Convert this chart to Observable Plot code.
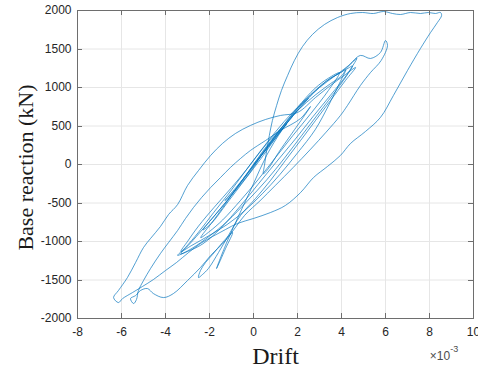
<!DOCTYPE html>
<html><head><meta charset="utf-8">
<script src="https://cdn.jsdelivr.net/npm/d3@7"></script>
<script src="https://cdn.jsdelivr.net/npm/@observablehq/plot@0.6"></script>
<style>body{margin:0;background:#fff} #chart{width:478px;height:371px;overflow:hidden}</style>
</head><body><div id="chart"></div>
<script>
// tick values
const driftTicks = [-8, -6, -4, -2, 0, 2, 4, 6, 8, 10];
const forceTicks = [-2000, -1500, -1000, -500, 0, 500, 1000, 1500, 2000];
const xLabel = "Drift";
const yLabel = "Base reaction (kN)";
const xMultiplier = "\u00d710";
const xExponent = "-3";

// traced response history: drift (x 10^-3) and base reaction (kN)
const drift = [
  0, 0.6, 1.1, 1.5, 1.1, 0.5, -0.2, -0.8, -1.3, -0.9, -0.2, 0.6, 1.3, 2.0, 2.5, 2.1, 1.4, 0.6, -0.2, -1.0, -1.7, -2.3, -1.9, -1.2, -0.4, 0.4, 1.2, 2.0, 2.7, 3.3, 3.8, 4.3, 4.5,
  4.3, 3.8, 3.0, 2.2, 1.4, 0.6, -0.3, -1.2, -2.0, -2.8, -3.45,
  -3.1, -2.5, -1.8, -1.0, -0.2, 0.6, 1.4, 2.2, 3.0, 3.7, 4.3, 4.86, 5.32, 5.77, 6.0, 6.09,
  5.8, 5.32, 4.86, 4.27, 3.95, 3.3, 2.6, 1.8, 1.0, 0.3, -0.4, -1.27, -1.95, -2.41, -3.0, -3.64, -4.09, -4.55, -4.82, -5.14, -5.36, -5.59,
  -5.45, -5.32, -5.23, -5.0, -4.68, -4.23, -3.86, -3.45, -3.09, -2.73, -2.36, -1.95, -1.5, -1.05, -0.59, -0.14, 0.55, 1.23, 2.14, 2.59,
  1.68, 1.14, 0.68, 0.45,
  0.5, 0.6, 0.72, 0.86, 1.05, 1.27, 1.55, 1.86, 2.23, 2.68, 3.23, 3.82, 4.41,
  4.95, 5.45, 5.91, 6.32, 6.68, 7.14, 7.59, 7.95, 8.27, 8.5, 8.55,
  8.36, 8.05, 7.59, 7.0, 6.36, 5.77, 5.09, 4.41, 3.95, 3.36, 2.73, 2.14, 1.45, 0.77, 0, -0.73,
  -1.27, -1.86, -2.41, -2.95, -3.5, -4.0, -4.55, -5.05, -5.5, -5.95, -6.14, -6.36,
  -6.14, -5.73, -5.36, -5.0, -4.68, -4.23, -3.86, -3.45, -3.0, -2.5, -1.95, -1.41, -0.82, -0.14, 0.55, 1.23, 2.0,
  2.82, 3.5, 4.18, 4.64,
  4.18, 3.5, 2.82, 2.14, 1.45, 0.77, 0.09, -0.59, -1.14, -1.59, -2.05, -2.32, -2.5,
  -2.41, -2.18, -1.86, -1.41, -0.95, -1.27, -1.68,
  -1.2, -0.6, 0, 0.6, 1.3, 2.0, 2.8, 3.5, 4.0, 4.4, 4.7,
  4.2, 3.5, 2.7, 1.9, 1.0, 0.2, -0.6, -1.5, -2.3, -3.0, -3.3,
  -2.8, -2.0, -1.2, -0.4, 0.4, 1.2, 2.0, 2.8, 3.4, 3.9,
  3.4, 2.6, 1.8, 1.0, 0.2, -0.6, -1.4, -2.0, -2.4,
  -1.8, -1.0, -0.2, 0.6, 1.2,
  2.0, 2.8, 3.5, 4.0, 4.2,
  3.9, 3.4, 2.8, 2.0, 1.2, 0.4, -0.4, -1.2, -2.0, -2.8, -3.3,
  -3.0, -2.5, -1.8, -1.0, -0.3, 0.4, 1.0, 1.6
];
const force = [
  0, 200, 380, 520, 400, 170, -90, -300, -470, -350, -100, 210, 460, 700, 860, 760, 520, 220, -120, -400, -640, -850, -760, -500, -200, 100, 420, 700, 920, 1080, 1170, 1250, 1280,
  1180, 980, 680, 380, 80, -200, -480, -740, -930, -1090, -1180,
  -1080, -880, -620, -330, -20, 280, 560, 800, 1000, 1150, 1280, 1416, 1377, 1455, 1610, 1546,
  1350, 1195, 1026, 766, 636, 420, 200, -40, -270, -470, -660, -987, -1182, -1338, -1507, -1676, -1728, -1676, -1611, -1637, -1702, -1741,
  -1806, -1754, -1637, -1507, -1351, -1156, -1013, -857, -701, -559, -429, -299, -169, -39, 78, 182, 312, 442, 598, 753,
  377, 156, -52, -120,
  -10, 182, 377, 572, 766, 961, 1156, 1351, 1533, 1689, 1819, 1909, 1961,
  1974, 1961, 1987, 1961, 1948, 1974, 1961, 1974, 1961, 1974, 1935,
  1844, 1715, 1507, 1221, 896, 611, 429, 273, 117, -26, -169, -364, -532, -624, -701, -766,
  -844, -935, -1026, -1143, -1273, -1377, -1494, -1585, -1663, -1741, -1793, -1728,
  -1637, -1468, -1273, -1078, -961, -805, -649, -520, -273, -78, 117, 273, 403, 507, 585, 637, 675,
  870, 1026, 1169, 1260,
  1091, 831, 572, 312, 52, -208, -442, -662, -922, -1143, -1351, -1429, -1468,
  -1377, -1273, -1169, -1013, -883, -1091, -1351,
  -1000, -620, -250, 120, 450, 720, 960, 1120, 1200, 1300, 1380,
  1150, 900, 620, 330, 20, -260, -540, -830, -1030, -1130, -1160,
  -1000, -740, -470, -160, 150, 450, 740, 990, 1120, 1190,
  960, 660, 380, 90, -200, -470, -720, -870, -950,
  -720, -400, -80, 240, 450,
  700, 900, 1050, 1150, 1230,
  1050, 760, 450, 150, -130, -380, -600, -780, -920, -1050, -1130,
  -1000, -800, -560, -300, -60, 200, 400, 560
];

(function () {
  const pts = drift.map((d, i) => ({drift: d, force: force[i]}));
  const W = 478, H = 371, mt = 10, mb = 53, ml = 77, mr = 5;
  const tk = 5;
  const boxColor = "#6e6e6e";
  const fmt = d => String(d);

  const chart = Plot.plot({
    width: W, height: H,
    marginLeft: ml, marginRight: mr, marginTop: mt, marginBottom: mb,
    x: {domain: [-8, 10], label: null},
    y: {domain: [-2000, 2000], label: null},
    style: {fontFamily: "'Liberation Sans', Arial, Helvetica, sans-serif", fontSize: "12px", color: "#262626", background: "#fff"},
    marks: [
      Plot.gridX(driftTicks, {stroke: "#e6e6e6", strokeOpacity: 1}),
      Plot.gridY(forceTicks, {stroke: "#e6e6e6", strokeOpacity: 1}),
      Plot.line(pts, {x: "drift", y: "force", stroke: "#0072BD", strokeWidth: 0.8, strokeOpacity: 0.85, curve: "catmull-rom"}),
      Plot.frame({stroke: boxColor}),
      Plot.axisX(driftTicks, {tickSize: 0, tickPadding: 9, label: null, tickFormat: fmt, fontSize: 12}),
      Plot.axisY(forceTicks, {tickSize: 0, tickPadding: 6, label: null, tickFormat: fmt, fontSize: 12}),
      Plot.text([xLabel], {frameAnchor: "bottom", dy: 38, lineAnchor: "middle", textAnchor: "middle", fontFamily: "'Liberation Serif', 'Times New Roman', serif", fontSize: 24, fill: "#1a1a1a"}),
      Plot.text([yLabel], {frameAnchor: "left", dx: -52, dy: 3, rotate: -90, textAnchor: "middle", lineAnchor: "middle", fontFamily: "'Liberation Serif', 'Times New Roman', serif", fontSize: 22, fill: "#1a1a1a"})
    ]
  });
  document.getElementById("chart").appendChild(chart);

  // inward tick marks on all four sides, placed with the chart's own scales
  const svg = d3.select(chart);
  const xs = chart.scale("x"), ys = chart.scale("y");
  const yTop = ys.apply(2000), yBottom = ys.apply(-2000), xLeft = xs.apply(-8), xRight = xs.apply(10);
  const g = svg.append("g").attr("stroke", boxColor).attr("stroke-width", 1);
  for (const d of driftTicks) {
    const x = Math.round(xs.apply(d)) + 0.5;
    g.append("line").attr("x1", x).attr("x2", x).attr("y1", yBottom).attr("y2", yBottom - tk);
    g.append("line").attr("x1", x).attr("x2", x).attr("y1", yTop).attr("y2", yTop + tk);
  }
  for (const d of forceTicks) {
    const y = Math.round(ys.apply(d)) + 0.5;
    g.append("line").attr("x1", xLeft).attr("x2", xLeft + tk).attr("y1", y).attr("y2", y);
    g.append("line").attr("x1", xRight).attr("x2", xRight - tk).attr("y1", y).attr("y2", y);
  }

  // exponent annotation (x 10^-3)
  const t = svg.append("text")
    .attr("x", 444).attr("y", 360)
    .attr("font-family", "'Liberation Sans', Arial, sans-serif")
    .attr("font-size", 12).attr("fill", "#4d4d4d");
  t.append("tspan").text(xMultiplier);
  t.append("tspan").attr("dy", -8).attr("font-size", 9).text(xExponent);
})();
</script>
</body></html>
